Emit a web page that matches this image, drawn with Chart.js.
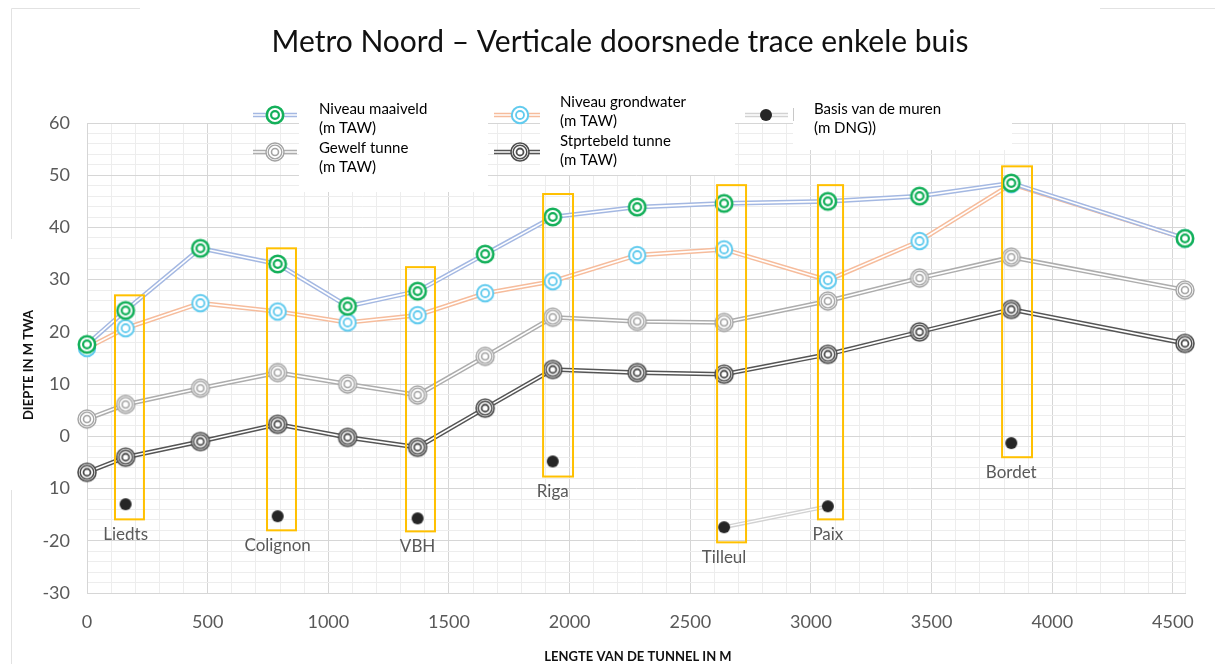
<!DOCTYPE html>
<html>
<head>
<meta charset="utf-8">
<title>Metro Noord – Verticale doorsnede</title>
<script src="https://cdn.jsdelivr.net/npm/chart.js@4.4.0/dist/chart.umd.min.js"></script>
<style>
  html, body { margin: 0; padding: 0; background: #ffffff; }
  #wrap { width: 1215px; height: 664px; }
</style>
</head>
<body>
<div id="wrap"><canvas id="profiel" width="1215" height="664"></canvas></div>
<script>
// Afstand langs het trace (m)
const distances = [0, 160, 470, 790, 1080, 1370, 1650, 1930, 2280, 2640, 3070, 3450, 3830, 4550];

// Niveaus (m TAW / m DNG)
const maaiveld    = [17.6, 24.1, 36.0, 33.0, 24.9, 27.8, 34.9, 42.0, 43.9, 44.6, 45.0, 46.0, 48.5, 37.9];
const grondwater  = [16.9, 20.7, 25.5, 23.9, 21.8, 23.2, 27.4, 29.7, 34.7, 35.8, 29.9, 37.4, 48.3, 37.9];
const gewelf      = [3.3, 6.1, 9.2, 12.2, 10.0, 7.9, 15.3, 22.8, 22.0, 21.8, 25.9, 30.3, 34.3, 28.0];
const stortebeld  = [-6.9, -4.0, -1.0, 2.3, -0.2, -2.1, 5.4, 12.8, 12.2, 11.9, 15.7, 20.0, 24.3, 17.8];
const basisMuren  = [null, -13.0, null, -15.3, null, -15.7, null, -4.8, null, -17.4, -13.4, null, -1.3, null];

// Stations en hun kaders (x in m, y in m)
const stationNames  = ['Liedts', 'Colignon', 'VBH', 'Riga', 'Tilleul', 'Paix', 'Bordet'];
const stationX      = [160, 790, 1370, 1930, 2640, 3070, 3830];
const boxFromX      = [116, 746, 1322, 1890, 2611, 3029, 3792];
const boxToX        = [236, 866, 1442, 2014, 2731, 3133, 3916];
const boxTop        = [27.0, 36.0, 32.4, 46.4, 48.1, 48.1, 51.7];
const boxBottom     = [-15.9, -18.0, -18.2, -7.7, -20.3, -15.9, -4.0];

// Asverdeling
const xMin = 0, xMax = 4550, xMinorStep = 100, xMajorStep = 500;
const yMin = -30, yMax = 60, yMinorStep = 2, yMajorStep = 10;

// Tekst
const chartTitle = 'Metro Noord – Verticale doorsnede trace enkele buis';
const xTitle = 'LENGTE VAN DE TUNNEL IN M';
const yTitle = 'DIEPTE IN M TWA';
const legendLines = [
  ['Niveau maaiveld', '(m TAW)'],
  ['Gewelf tunne', '(m TAW)'],
  ['Niveau grondwater', '(m TAW)'],
  ['Stprtebeld tunne', '(m TAW)'],
  ['Basis van de muren', '(m DNG))']
];

const FONT = 'Lato, "Open Sans", sans-serif';

// Concentric ring markers
function ringMarker(color, rings) {
  const s = 26, c = document.createElement('canvas');
  c.width = s; c.height = s;
  const g = c.getContext('2d');
  const m = s / 2;
  g.fillStyle = '#ffffff';
  g.beginPath(); g.arc(m, m, rings[0][0], 0, Math.PI * 2); g.fill();
  g.strokeStyle = color;
  rings.forEach(([r, w]) => {
    g.lineWidth = w;
    g.beginPath(); g.arc(m, m, r, 0, Math.PI * 2); g.stroke();
  });
  return c;
}
function dotMarker(color, r) {
  const s = 16, c = document.createElement('canvas');
  c.width = s; c.height = s;
  const g = c.getContext('2d');
  g.fillStyle = color;
  g.beginPath(); g.arc(s / 2, s / 2, r, 0, Math.PI * 2); g.fill();
  return c;
}

const mkGreen = ringMarker('#14B05A', [[8.2, 2.6], [3.9, 2.2]]);
const mkCyan  = ringMarker('#62CBEE', [[8.2, 2.0], [4.0, 1.8]]);
const mkGray  = ringMarker('#A3A3A3', [[9.0, 1.4], [6.8, 1.3], [3.5, 1.6]]);
const mkDark  = ringMarker('#4D4D4D', [[9.0, 1.6], [6.8, 1.5], [3.5, 1.8]]);
const mkDot   = dotMarker('#262626', 6);

const LINE_BLUE = '#A4B8E2';
const LINE_ORANGE = '#F6BC9C';
const LINE_GRAY = '#ADADAD';
const LINE_DARK = '#555555';
const LINE_LIGHT = '#D2D2D2';

function pts(arr) { return distances.map((x, i) => ({ x: x, y: arr[i] })); }

// Each series: a wide coloured stroke with a thin white core on top (double line) plus markers
function series(label, arr, lineColor, marker, order, wide, core) {
  return [
    { label: label, data: pts(arr), borderColor: lineColor, borderWidth: wide,
      pointRadius: 0, order: order + 1, tension: 0, spanGaps: false, clip: false },
    { label: label, data: pts(arr), borderColor: '#ffffff', borderWidth: core,
      pointStyle: marker, pointRadius: 9, order: order, tension: 0, spanGaps: false, clip: false }
  ];
}

const datasets = [].concat(
  series('Niveau maaiveld (m TAW)', maaiveld, LINE_BLUE, mkGreen, 0, 4.6, 1.6),
  series('Niveau grondwater (m TAW)', grondwater, LINE_ORANGE, mkCyan, 2, 4.6, 1.6),
  series('Stprtebeld tunne (m TAW)', stortebeld, LINE_DARK, mkDark, 4, 4.6, 1.6),
  series('Gewelf tunne (m TAW)', gewelf, LINE_GRAY, mkGray, 6, 4.6, 1.6),
  series('Basis van de muren (m DNG))', basisMuren, LINE_LIGHT, mkDot, 8, 4.0, 1.2)
);

// Background, frame and title
const backdrop = {
  id: 'backdrop',
  beforeDraw(chart) {
    const g = chart.ctx;
    g.save();
    g.fillStyle = '#ffffff';
    g.fillRect(0, 0, chart.width, chart.height);
    g.strokeStyle = '#E2E2E2';
    g.lineWidth = 1;
    g.beginPath();
    g.moveTo(11.5, 664); g.lineTo(11.5, 8.5); g.lineTo(1215, 8.5);
    g.stroke();
    g.fillStyle = '#ffffff';
    g.fillRect(140, 0, 960, 78);
    g.fillRect(0, 239, 45, 251);
    g.restore();
  },
  afterDraw(chart) {
    const g = chart.ctx;
    const area = chart.chartArea;
    g.save();
    g.fillStyle = '#111111';
    g.textAlign = 'center';
    g.textBaseline = 'middle';
    g.font = '30px ' + FONT;
    g.fillText(chartTitle, 620, 42);

    g.font = 'bold 13px ' + FONT;
    g.fillText(xTitle, (area.left + area.right) / 2 + 2, 657);
    g.translate(29, 365);
    g.rotate(-Math.PI / 2);
    g.fillText(yTitle, 0, 0);
    g.restore();
  }
};

// Station frames and names
const stationFrames = {
  id: 'stationFrames',
  afterDatasetsDraw(chart) {
    const g = chart.ctx, xs = chart.scales.x, ys = chart.scales.y;
    g.save();
    g.strokeStyle = '#FFC000';
    g.lineWidth = 2;
    g.fillStyle = '#595959';
    g.font = '17px ' + FONT;
    g.textAlign = 'center';
    g.textBaseline = 'middle';
    stationNames.forEach((name, i) => {
      const x0 = xs.getPixelForValue(boxFromX[i]);
      const x1 = xs.getPixelForValue(boxToX[i]);
      const y0 = ys.getPixelForValue(boxTop[i]);
      const y1 = ys.getPixelForValue(boxBottom[i]);
      g.strokeRect(x0, y0, x1 - x0, y1 - y0);
      g.fillText(name, xs.getPixelForValue(stationX[i]), y1 + 15);
    });
    g.restore();
  }
};

// Legend with white text panels
function doubleLine(g, x0, x1, y, color, wide, core) {
  g.lineCap = 'butt';
  g.strokeStyle = color; g.lineWidth = wide;
  g.beginPath(); g.moveTo(x0, y); g.lineTo(x1, y); g.stroke();
  g.strokeStyle = '#ffffff'; g.lineWidth = core;
  g.beginPath(); g.moveTo(x0, y); g.lineTo(x1, y); g.stroke();
}
const legendPanel = {
  id: 'legendPanel',
  afterDraw(chart) {
    const g = chart.ctx;
    g.save();
    g.fillStyle = '#ffffff';
    g.fillRect(299, 80, 189, 112);
    g.fillRect(540, 80, 195, 95);
    g.fillRect(793, 80, 219, 70);
    g.strokeStyle = '#C8C8C8'; g.lineWidth = 1;
    g.beginPath(); g.moveTo(793.5, 108); g.lineTo(793.5, 121); g.stroke();

    const items = [
      { x0: 253, x1: 297, mx: 275, y: 115, color: LINE_BLUE, mk: mkGreen, tx: 319, ty: 109 },
      { x0: 253, x1: 297, mx: 275, y: 152, color: LINE_GRAY, mk: mkGray, tx: 319, ty: 148 },
      { x0: 494, x1: 540, mx: 520, y: 115, color: LINE_ORANGE, mk: mkCyan, tx: 560, ty: 102 },
      { x0: 494, x1: 540, mx: 520, y: 152, color: LINE_DARK, mk: mkDark, tx: 560, ty: 141 },
      { x0: 745, x1: 788, mx: 766, y: 115, color: LINE_LIGHT, mk: mkDot, tx: 814, ty: 109 }
    ];
    items.forEach((it, i) => {
      doubleLine(g, it.x0, it.x1, it.y, it.color, 4.6, 1.6);
      g.drawImage(it.mk, it.mx - it.mk.width / 2, it.y - it.mk.height / 2);
      g.fillStyle = '#000000';
      g.font = '15px ' + FONT;
      g.textAlign = 'left';
      g.textBaseline = 'middle';
      legendLines[i].forEach((t, k) => g.fillText(t, it.tx, it.ty + k * 19.5));
    });
    g.restore();
  }
};

const MAJOR_GRID = '#D6D6D6';
const MINOR_GRID = '#EDEDED';

// Regular tick lists for the grid (minor steps, labels on major steps)
function tickList(min, max, step) {
  const out = [];
  for (let v = min; v <= max + 1e-9; v += step) out.push({ value: Math.round(v * 1000) / 1000 });
  if (out[out.length - 1].value !== max) out.push({ value: max });
  return out;
}

new Chart(document.getElementById('profiel'), {
  type: 'line',
  data: { datasets: datasets },
  plugins: [backdrop, stationFrames, legendPanel],
  options: {
    responsive: false,
    animation: false,
    events: [],
    layout: { padding: { top: 123, right: 30, left: 0, bottom: 0 } },
    plugins: {
      legend: { display: false },
      tooltip: { enabled: false },
      title: { display: false }
    },
    scales: {
      x: {
        type: 'linear',
        min: xMin,
        max: xMax,
        afterFit(scale) { scale.height = 71; },
        afterBuildTicks(scale) { scale.ticks = tickList(xMin, xMax, xMinorStep); },
        ticks: {
          autoSkip: false,
          maxRotation: 0,
          padding: 18,
          color: '#595959',
          font: { family: FONT, size: 18 },
          callback: (v) => (v % xMajorStep === 0 ? String(v) : '')
        },
        grid: {
          drawTicks: false,
          color: (c) => (c.tick && c.tick.value % xMajorStep === 0 ? MAJOR_GRID : MINOR_GRID)
        },
        border: { color: MAJOR_GRID }
      },
      y: {
        min: yMin,
        max: yMax,
        afterFit(scale) { scale.width = 87; },
        afterBuildTicks(scale) { scale.ticks = tickList(yMin, yMax, yMinorStep); },
        ticks: {
          autoSkip: false,
          padding: 17,
          color: '#595959',
          font: { family: FONT, size: 18 },
          callback: (v) => {
            if (v % yMajorStep !== 0) return '';
            return v === -10 ? '10' : String(v);
          }
        },
        grid: {
          drawTicks: false,
          color: (c) => (c.tick && c.tick.value % yMajorStep === 0 ? MAJOR_GRID : MINOR_GRID)
        },
        border: { color: MAJOR_GRID }
      }
    }
  }
});
</script>
</body>
</html>
